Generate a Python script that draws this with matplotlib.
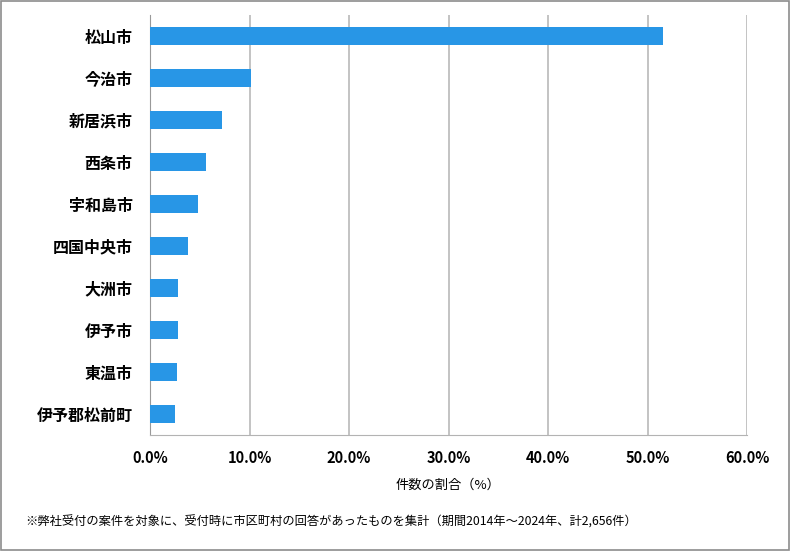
import matplotlib.pyplot as plt
from matplotlib.patches import Rectangle
from matplotlib.ticker import FuncFormatter

plt.rcParams['font.family'] = ['Noto Sans CJK JP', 'DejaVu Sans']

cities = ['松山市', '今治市', '新居浜市', '西条市', '宇和島市',
          '四国中央市', '大洲市', '伊予市', '東温市', '伊予郡松前町']
share = [51.6, 10.2, 7.2, 5.6, 4.8, 3.8, 2.8, 2.8, 2.7, 2.5]
xticks = [0, 10, 20, 30, 40, 50, 60]

fig = plt.figure(figsize=(7.9, 5.51), dpi=100)
ax = fig.add_axes([150 / 790, 116 / 551, 597 / 790, 420 / 551])

y = list(range(len(cities)))
ax.barh(y, share, height=0.41, color='#2896e6', zorder=3)
ax.set_ylim(len(cities) - 0.5, -0.5)
ax.set_yticks(y)
ax.set_yticklabels(cities, fontsize=11.5, fontweight='bold')

ax.set_xlim(0, 60)
ax.set_xticks(xticks)
ax.xaxis.set_major_formatter(FuncFormatter(lambda v, p: f'{v:.1f}%'))
for lab in ax.get_xticklabels():
    lab.set_fontweight('bold')
    lab.set_fontsize(10.5)
ax.tick_params(axis='x', length=0, pad=11)
ax.tick_params(axis='y', length=0, pad=12.5)
ax.grid(axis='x', color='#b3b3b3', linewidth=1.1, zorder=0)

for s in ['top', 'right']:
    ax.spines[s].set_visible(False)
ax.spines['left'].set_color('#999999')
ax.spines['bottom'].set_color('#b3b3b3')

ax.set_xlabel('件数の割合（%）', fontsize=9.5, labelpad=9)

fig.text(25 / 790, 1 - 522 / 551, '※弊社受付の案件を対象に、受付時に市区町村の回答があったものを集計（期間2014年～2024年、計2,656件）',
         fontsize=8.8, va='center', ha='left')

fig.patches.append(Rectangle((0.0015, 0.002), 0.997, 0.996, transform=fig.transFigure,
                             fill=False, edgecolor='#8c8c8c', linewidth=1.2))

fig.savefig('out.png', dpi=100)
